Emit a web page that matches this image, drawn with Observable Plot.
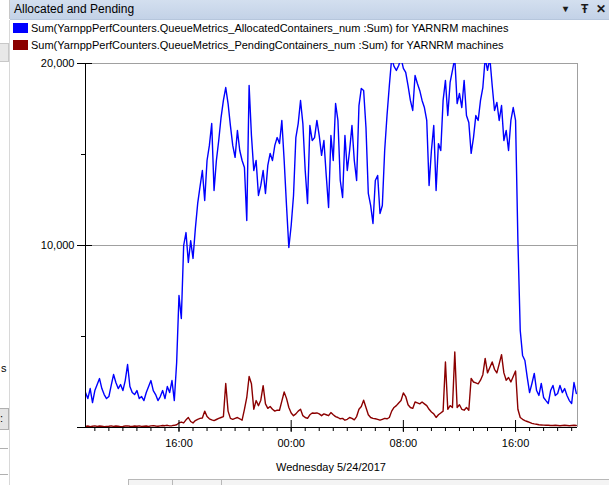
<!DOCTYPE html>
<html><head><meta charset="utf-8">
<script src="https://cdn.jsdelivr.net/npm/d3@7"></script>
<script src="https://cdn.jsdelivr.net/npm/@observablehq/plot@0.6"></script>
<style>
html,body{margin:0;padding:0;background:#fff;}
body{width:609px;height:485px;overflow:hidden;position:relative;font-family:"Liberation Sans",Arial,sans-serif;color:#000;}
.abs{position:absolute;}
#titlebar{left:10px;top:0;width:599px;height:19px;background:linear-gradient(#d3dfef,#c3d2e7);border-bottom:1px solid #b6c6dc;}
#titletext{left:14px;top:2px;font-size:12px;line-height:15px;}
.icon{top:1px;font-size:12px;line-height:16px;color:#1a1a1a;font-weight:bold;}
.legrow{left:13px;height:14px;font-size:11px;line-height:14px;white-space:nowrap;}
.sw{display:inline-block;width:15px;height:10px;vertical-align:-1px;margin-right:3px;}
#chart{left:0;top:50px;}
#xlabel{left:85px;width:492px;top:460px;text-align:center;font-size:11px;line-height:14px;}
</style></head><body>
<div id="titlebar" class="abs"></div>
<div id="titletext" class="abs"></div>
<div class="abs icon" style="left:563px;font-size:10px;">&#9662;</div>
<div class="abs icon" style="left:581px;">&#358;</div>
<div class="abs icon" style="left:596px;">&#10005;</div>
<div class="abs" style="left:0;top:0;width:9px;height:19px;border-right:1px solid #c8c8c8;"></div>
<div class="abs" style="left:0;top:43px;width:8px;height:17px;border:1px solid #c8c8c8;border-left:none;background:#e8e8e8;"></div>
<div class="abs" style="left:9px;top:20px;width:1px;height:465px;background:#d8d8d8;"></div>
<div class="abs" style="left:1px;top:362px;font-size:11px;">s</div>
<div class="abs" style="left:0;top:408px;width:8px;height:20px;border:1px solid #b0b0b0;border-left:none;background:#e4e4e4;font-size:11px;line-height:18px;">:</div>
<div class="abs" style="left:0;top:448px;width:8px;height:25px;border-top:1px solid #b0b0b0;border-bottom:1px solid #b0b0b0;"></div>
<div class="abs" style="left:128px;top:479px;width:481px;height:6px;border-top:1px solid #b8b8b8;border-left:1px solid #b8b8b8;background:#f4f4f4;"></div>
<div class="abs" style="left:172px;top:480px;width:1px;height:5px;background:#b8b8b8;"></div>
<div class="abs" style="left:221px;top:480px;width:1px;height:5px;background:#b8b8b8;"></div>
<div id="legend"></div>
<div id="chart" class="abs"></div>
<div id="xlabel" class="abs"></div>
<script>
const panelTitle = "Allocated and Pending";
const seriesNames = [
  "Sum(YarnppPerfCounters.QueueMetrics_AllocatedContainers_num :Sum) for YARNRM machines",
  "Sum(YarnppPerfCounters.QueueMetrics_PendingContainers_num :Sum) for YARNRM machines"
];
const seriesColors = ["#0000ff", "#8b0000"];
const xAxisTitle = "Wednesday 5/24/2017";
const startTime = "2017-05-23T09:20:00Z";
const stepMinutes = 10;
const domainStart = "2017-05-23T09:20:00Z";
const domainEnd = "2017-05-24T20:25:00Z";
const xMajorTicks = ["2017-05-23T16:00:00Z", "2017-05-24T00:00:00Z", "2017-05-24T08:00:00Z", "2017-05-24T16:00:00Z"];
const yMajorTicks = [0, 10000, 20000];
const yLabelTicks = [10000, 20000];
const yMinorTicks = [5000, 15000];
const yDomain = [0, 20000];

const allocated = [
1920,1590,2140,1370,2030,2360,2690,2140,1810,1590,
1700,2310,2910,2470,2140,2360,2030,2580,3460,2250,
1920,1810,2030,1590,1700,1480,1920,2250,2580,2030,
1810,1480,1700,2030,1590,2250,1920,2580,1480,3570,
7250,5990,10000,10710,9070,10270,9290,10930,12310,13240,
14120,12470,14670,15500,16700,13020,14670,15770,17030,17970,
18680,17800,16590,15500,14840,16320,15220,14670,14290,11370,
18790,16040,14120,14670,12750,13300,14120,12860,14400,15060,
14670,15500,15930,15600,16870,14670,12200,9890,11100,12750,
15930,16700,17970,16700,14120,12310,16590,15770,15930,16870,
16040,14950,15770,13850,12090,16040,14670,17800,16870,13570,
12640,16040,14120,15220,16590,14670,13570,17690,18630,18520,
16480,12860,12200,11210,13570,13850,11760,12200,15220,17140,
18790,20300,19840,19620,19890,20300,19730,19510,18790,17970,
17420,19340,18900,18520,17970,17580,16870,13300,15220,16590,
13020,15600,15220,17970,19070,17140,18960,19620,20300,17800,
18350,17580,19070,17140,16760,15060,15930,17140,16870,17970,
18680,20300,19620,20300,18790,17420,17860,16870,17690,15770,
16320,15220,16870,17580,16870,10270,5330,3960,3680,2750,
1920,2420,2970,2030,1760,2420,1650,1480,1320,2030,
2310,1760,1870,2310,1920,2140,1760,1480,1320,2470,1870
];
const pending = [
60,80,50,70,90,60,80,70,50,60,
70,90,60,80,70,50,60,80,90,70,
60,80,70,90,60,70,80,60,90,100,
80,70,90,110,100,120,90,100,120,150,
250,300,250,420,550,330,250,380,450,500,
520,900,600,480,420,380,440,500,550,600,
2420,900,500,450,500,550,480,400,1000,1650,
2800,2400,1000,1480,1200,1500,2300,1300,1050,1150,
1000,900,950,950,1450,1950,1600,1100,800,650,
750,900,1000,650,550,500,700,800,780,800,
750,650,750,700,650,820,700,600,550,480,
500,400,450,550,500,420,600,1000,1150,1500,
1100,700,550,500,480,450,400,450,500,480,
550,900,1100,1200,1350,1480,1900,1700,1250,1100,
1050,1400,1350,1300,1400,1300,1200,1000,850,750,
550,700,800,900,3600,1000,1200,1100,4150,1100,
1250,1000,950,1100,950,2700,2500,2450,2400,2600,
2900,3800,3000,3300,3600,3200,3000,3500,4000,3000,
2600,2750,2500,2800,3100,1000,550,450,380,330,
280,230,200,180,150,140,130,120,120,110,
110,120,110,100,110,120,110,100,110,120,110
];

document.getElementById("titletext").textContent = panelTitle;
document.getElementById("xlabel").textContent = xAxisTitle;
const legend = document.getElementById("legend");
seriesNames.forEach((name, k) => {
  const row = document.createElement("div");
  row.className = "abs legrow";
  row.style.top = (21 + k * 17) + "px";
  const sw = document.createElement("span");
  sw.className = "sw";
  sw.style.background = seriesColors[k];
  row.appendChild(sw);
  row.appendChild(document.createTextNode(name));
  legend.appendChild(row);
});

const t0 = new Date(startTime);
const rows = allocated.map((v, i) => ({time: new Date(+t0 + i * stepMinutes * 60000), allocated: v, pending: pending[i]}));
const xDomain = [new Date(domainStart), new Date(domainEnd)];
const xMajor = xMajorTicks.map(d => new Date(d));
const xMinor = d3.utcHour.range(xDomain[0], xDomain[1]);
const blank = () => "";

const chart = Plot.plot({
  width: 609, height: 430,
  marginLeft: 85, marginRight: 32, marginTop: 13, marginBottom: 53,
  style: {fontFamily: "'Liberation Sans', Arial, sans-serif", fontSize: "11px", color: "#000", background: "transparent", overflow: "visible"},
  x: {type: "utc", domain: xDomain},
  y: {domain: yDomain},
  marks: [
    Plot.ruleY(yLabelTicks, {stroke: "#a0a0a0"}),
    Plot.ruleX([xDomain[1]], {stroke: "#a0a0a0"}),
    Plot.line(rows, {x: "time", y: "allocated", stroke: seriesColors[0], strokeWidth: 1.4, clip: true}),
    Plot.line(rows, {x: "time", y: "pending", stroke: seriesColors[1], strokeWidth: 1.4, clip: true}),
    Plot.ruleX([xDomain[0]], {stroke: "#000"}),
    Plot.ruleY([yDomain[0]], {stroke: "#000"}),
    Plot.axisY({ticks: yMajorTicks, tickSize: 15, dx: 7, tickFormat: blank, label: null, stroke: "#000"}),
    Plot.axisY({ticks: yMinorTicks, tickSize: 4, tickFormat: blank, label: null, stroke: "#000"}),
    Plot.axisY({ticks: yLabelTicks, tickSize: 0, tickPadding: 11, tickFormat: d3.format(","), label: null}),
    Plot.axisX({ticks: xMajor, tickSize: 12, dy: -7, tickFormat: blank, label: null, stroke: "#000"}),
    Plot.axisX({ticks: xMinor, tickSize: 4, tickFormat: blank, label: null, stroke: "#000"}),
    Plot.axisX({ticks: xMajor, tickSize: 0, tickPadding: 12, tickFormat: d3.utcFormat("%H:%M"), label: null})
  ]
});
document.getElementById("chart").appendChild(chart);
</script>
</body></html>
